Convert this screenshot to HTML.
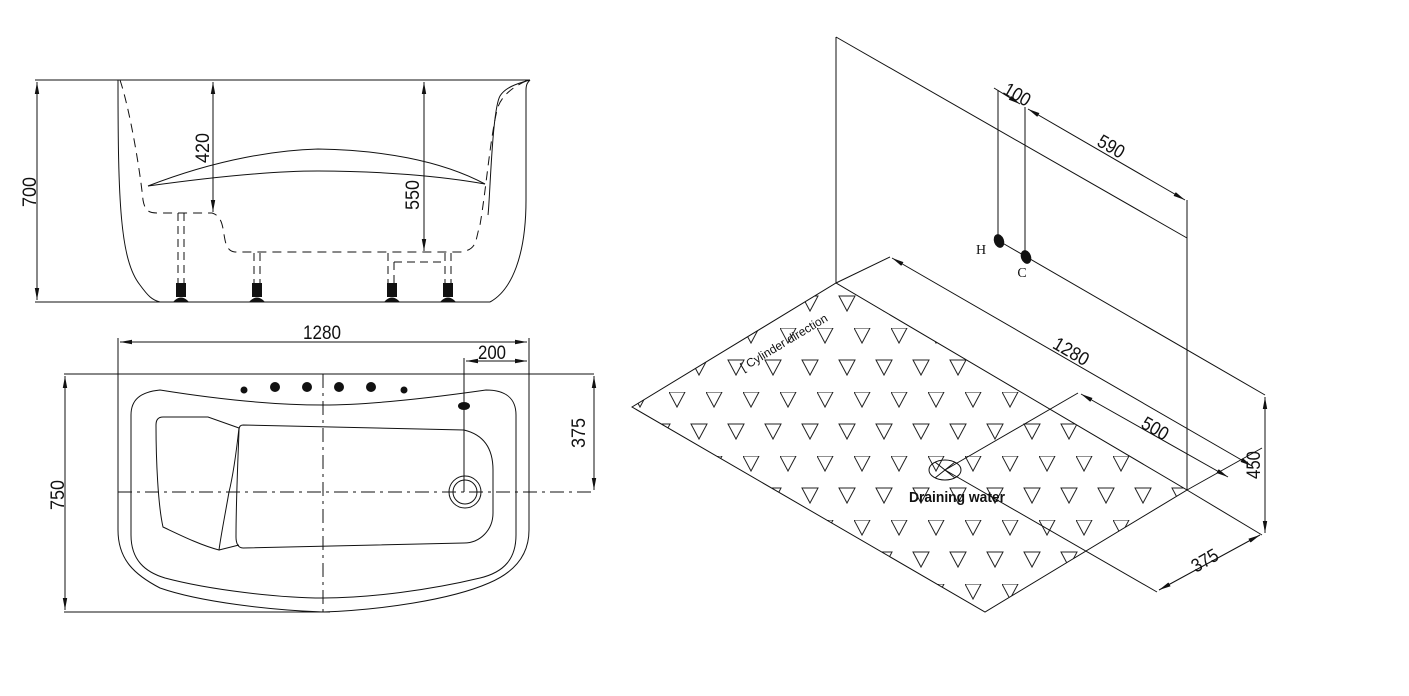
<!DOCTYPE html>
<html><head><meta charset="utf-8"><style>
html,body{margin:0;padding:0;background:#fff;}
svg{display:block;}
text{font-family:"Liberation Sans",sans-serif;fill:#111;}
.d{font-size:19px;}
</style></head><body>
<svg width="1409" height="696" viewBox="0 0 1409 696" xmlns="http://www.w3.org/2000/svg">
<defs>
<marker id="a" viewBox="0 0 12 6" refX="12" refY="3" markerWidth="12" markerHeight="6" orient="auto-start-reverse" markerUnits="userSpaceOnUse"><path d="M0,0.8 L12,3 L0,5.2z" fill="#111"/></marker>
<pattern id="tri" patternUnits="userSpaceOnUse" x="669" y="392" width="37" height="64">
<polygon points="0,0 16,0 8,15" fill="none" stroke="#222" stroke-width="1"/>
<polygon points="22,32 38,32 30,47" fill="none" stroke="#222" stroke-width="1"/>
<polygon points="-15,32 1,32 -7,47" fill="none" stroke="#222" stroke-width="1"/>
</pattern>
<clipPath id="fl"><polygon points="632,407 836,283 1187,490 985,612"/></clipPath>
</defs>
<g fill="none" stroke="#111" stroke-width="1">
<!-- SIDE VIEW -->
<line x1="35" y1="80" x2="530" y2="80"/>
<line x1="35" y1="302" x2="490" y2="302"/>
<line x1="37" y1="82" x2="37" y2="300" marker-start="url(#a)" marker-end="url(#a)"/>
<path d="M118,80 C118,200 120,260 140,285 C148,296 152,300 160,302"/>
<path d="M530,80 C528,82 526,84 526,90 L526,200 C526,255 512,290 490,302"/>
<path d="M530,80 C515,84 505,88 500,96 C492,110 490,200 488,215" />
<path stroke-dasharray="9,6" d="M120,80 C130,110 140,170 143,200 C145,212 150,213 158,213 L212,213 C230,218 218,250 235,252 L460,252 C478,250 475,240 480,225 C486,190 490,140 497,110 C500,98 510,88 528,80"/>
<path d="M148,186 C220,158 280,150 318,149 C380,150 440,160 485,184"/>
<path d="M148,186 C220,176 280,171 318,171 C380,171 440,176 485,184"/>
<line x1="213" y1="82" x2="213" y2="212" marker-start="url(#a)" marker-end="url(#a)"/>
<line x1="424" y1="82" x2="424" y2="251" marker-start="url(#a)" marker-end="url(#a)"/>
<g stroke-dasharray="8,5">
<line x1="178" y1="213" x2="178" y2="283"/><line x1="184" y1="213" x2="184" y2="283"/>
<line x1="254" y1="253" x2="254" y2="283"/><line x1="260" y1="253" x2="260" y2="283"/>
<line x1="388" y1="253" x2="388" y2="283"/><line x1="394" y1="262" x2="394" y2="283"/>
<line x1="445" y1="253" x2="445" y2="283"/><line x1="451" y1="253" x2="451" y2="283"/>
<line x1="394" y1="262" x2="445" y2="262"/>
</g>
</g>
<g fill="#111">
<rect x="176" y="283" width="10" height="14"/><path d="M173,302 Q181,293 189,302z"/>
<rect x="252" y="283" width="10" height="14"/><path d="M249,302 Q257,293 265,302z"/>
<rect x="387" y="283" width="10" height="14"/><path d="M384,302 Q392,293 400,302z"/>
<rect x="443" y="283" width="10" height="14"/><path d="M440,302 Q448,293 456,302z"/>
</g>
<text class="d" transform="translate(36,192) rotate(-90)" text-anchor="middle" textLength="30" lengthAdjust="spacingAndGlyphs">700</text>
<text class="d" transform="translate(209,148) rotate(-90)" text-anchor="middle" textLength="30" lengthAdjust="spacingAndGlyphs">420</text>
<text class="d" transform="translate(419,195) rotate(-90)" text-anchor="middle" textLength="30" lengthAdjust="spacingAndGlyphs">550</text>

<!-- PLAN VIEW -->
<g fill="none" stroke="#111" stroke-width="1">
<line x1="120" y1="342" x2="527" y2="342" marker-start="url(#a)" marker-end="url(#a)"/>
<line x1="118" y1="338" x2="118" y2="380"/><line x1="529" y1="338" x2="529" y2="376"/>
<line x1="466" y1="361" x2="527" y2="361" marker-start="url(#a)" marker-end="url(#a)"/>
<line x1="464" y1="358" x2="464" y2="492"/>
<line x1="64" y1="374" x2="594" y2="374"/>
<line x1="64" y1="612" x2="330" y2="612"/>
<line x1="65" y1="376" x2="65" y2="610" marker-start="url(#a)" marker-end="url(#a)"/>
<line x1="594" y1="376" x2="594" y2="490" marker-start="url(#a)" marker-end="url(#a)"/>
<line x1="118" y1="492" x2="594" y2="492" stroke-dasharray="14,5,3,5"/>
<line x1="323" y1="374" x2="323" y2="612" stroke-dasharray="14,5,3,5"/>
<path d="M118,374 L118,530 C118,560 135,575 160,588 C200,602 270,610 323,612 C380,610 450,600 489,583 C515,572 529,555 529,530 L529,373"/>
<path d="M160,390 C140,392 131,400 131,415 L131,535 C131,560 145,572 165,578 C210,590 280,598 323,598 C370,598 430,590 480,578 C505,572 516,558 516,535 L516,415 C516,398 505,390 486,390 C430,398 370,405 323,405 C270,405 210,398 160,390z"/>
<path d="M163,417 L208,417 L239,428 C236,455 232,480 229,492 C225,515 221,535 219,550 C200,545 180,535 163,527 C158,505 156,460 156,425 C156,419 159,417 163,417z"/>
<path d="M219,550 L239,545"/>
<path d="M243,425 L464,430 C485,435 493,450 493,470 L493,513 C493,530 480,543 464,543 L243,548 C238,548 236,543 236,537 C236,500 238,460 239,430 C239,427 240,425 243,425z"/>
<circle cx="465" cy="492" r="16"/><circle cx="465" cy="492" r="12"/>
</g>
<g fill="#111">
<circle cx="244" cy="390" r="3.5"/><circle cx="275" cy="387" r="5"/><circle cx="307" cy="387" r="5"/>
<circle cx="339" cy="387" r="5"/><circle cx="371" cy="387" r="5"/><circle cx="404" cy="390" r="3.5"/>
<ellipse cx="464" cy="406" rx="6" ry="4"/>
</g>
<text class="d" x="322" y="339" text-anchor="middle" textLength="38" lengthAdjust="spacingAndGlyphs">1280</text>
<text class="d" x="492" y="359" text-anchor="middle" textLength="28" lengthAdjust="spacingAndGlyphs">200</text>
<text class="d" transform="translate(64,495) rotate(-90)" text-anchor="middle" textLength="30" lengthAdjust="spacingAndGlyphs">750</text>
<text class="d" transform="translate(585,433) rotate(-90)" text-anchor="middle" textLength="30" lengthAdjust="spacingAndGlyphs">375</text>

<!-- ISOMETRIC VIEW -->
<polygon points="632,407 836,283 1187,490 985,612" fill="url(#tri)" stroke="none" clip-path="url(#fl)"/>
<g fill="none" stroke="#111" stroke-width="1">
<polygon points="632,407 836,283 1187,490 985,612"/>
<line x1="836" y1="37" x2="836" y2="283"/>
<line x1="836" y1="37" x2="1187" y2="238"/>
<line x1="1187" y1="200" x2="1187" y2="490"/>
<line x1="998" y1="90" x2="998" y2="238"/>
<line x1="1025" y1="107" x2="1025" y2="255"/>
<line x1="994" y1="88" x2="1020" y2="104" marker-end="url(#a)"/>
<line x1="1028" y1="109" x2="1185" y2="200" marker-start="url(#a)" marker-end="url(#a)"/>
<line x1="999" y1="241" x2="1265" y2="395"/>
<line x1="836" y1="283" x2="890" y2="257"/>
<line x1="892" y1="258" x2="1252" y2="466" marker-start="url(#a)" marker-end="url(#a)"/>
<line x1="1187" y1="490" x2="1262" y2="448"/>
<line x1="945" y1="470" x2="1078" y2="393"/>
<line x1="1081" y1="394" x2="1228" y2="477" marker-start="url(#a)" marker-end="url(#a)"/>
<line x1="1187" y1="490" x2="1262" y2="535"/>
<line x1="945" y1="470" x2="1157" y2="592"/>
<line x1="1159" y1="590" x2="1260" y2="535" marker-start="url(#a)" marker-end="url(#a)"/>
<line x1="1265" y1="397" x2="1265" y2="533" marker-start="url(#a)" marker-end="url(#a)"/>
<ellipse cx="945" cy="470" rx="16" ry="10"/>
<line x1="935" y1="462" x2="955" y2="478"/><line x1="935" y1="478" x2="955" y2="462"/>
</g>
<g fill="#111">
<ellipse cx="999" cy="241" rx="5" ry="7" transform="rotate(-20 999 241)"/>
<ellipse cx="1026" cy="257" rx="5" ry="7" transform="rotate(-20 1026 257)"/>
</g>
<text x="981" y="254" font-size="14" text-anchor="middle" style="font-family:'Liberation Serif',serif">H</text>
<text x="1022" y="277" font-size="14" text-anchor="middle" style="font-family:'Liberation Serif',serif">C</text>
<text class="d" transform="translate(1014,100) rotate(30)" text-anchor="middle" textLength="28" lengthAdjust="spacingAndGlyphs">100</text>
<text class="d" transform="translate(1108,152) rotate(30)" text-anchor="middle" textLength="28" lengthAdjust="spacingAndGlyphs">590</text>
<text class="d" transform="translate(1068,357) rotate(30)" text-anchor="middle" textLength="38" lengthAdjust="spacingAndGlyphs">1280</text>
<text class="d" transform="translate(1152,434) rotate(30)" text-anchor="middle" textLength="28" lengthAdjust="spacingAndGlyphs">500</text>
<text class="d" transform="translate(1260,465) rotate(-90)" text-anchor="middle" textLength="28" lengthAdjust="spacingAndGlyphs">450</text>
<text class="d" transform="translate(1208,566) rotate(-30)" text-anchor="middle" textLength="28" lengthAdjust="spacingAndGlyphs">375</text>
<text transform="translate(786,346) rotate(-31)" text-anchor="middle" font-size="12">[ Cylinder direction</text>
<text x="957" y="502" text-anchor="middle" font-size="15" font-weight="bold" textLength="96" lengthAdjust="spacingAndGlyphs">Draining water</text>
</svg>
</body></html>
